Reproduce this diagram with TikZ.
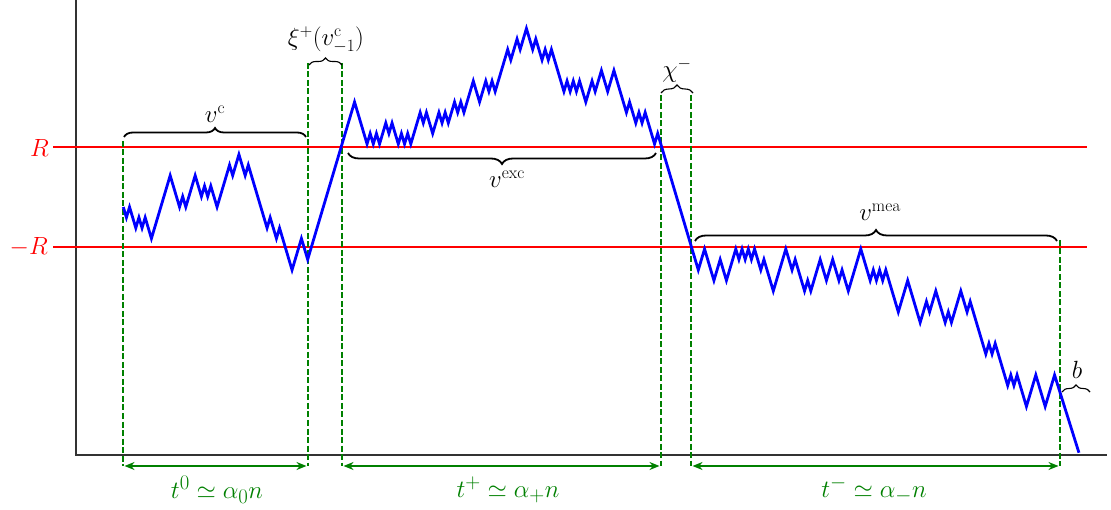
\documentclass[tikz,border=0pt]{standalone}
\usetikzlibrary{decorations.pathreplacing,arrows.meta}
\definecolor{dgreen}{RGB}{0,128,0}
\definecolor{axgray}{RGB}{51,51,51}
\begin{document}
\begin{tikzpicture}[x=1pt,y=-1pt,font=\fontsize{25}{30}\selectfont,
  walk/.style={blue,line width=2.8pt,line join=miter},
  rline/.style={red,line width=1.3pt},
  axisline/.style={axgray,line width=1.8pt},
  vdash/.style={dgreen,line width=1.8pt,dash pattern=on 6pt off 2.5pt},
  dimline/.style={dgreen,line width=1.8pt,{Stealth[length=10pt,width=8pt]}-{Stealth[length=10pt,width=8pt]},shorten <=1.5pt,shorten >=1.5pt},
  bracethick/.style={decorate,decoration={brace,amplitude=#1},line width=1.8pt},
  bracethin/.style={decorate,decoration={brace,amplitude=#1},line width=1.1pt},
  lbl/.style={inner sep=0pt,font=\fontsize{26.5}{31}\selectfont},
  glbl/.style={inner sep=0pt,text=dgreen,font=\fontsize{28}{33}\selectfont},
  rlbl/.style={inner sep=0pt,text=red}]
\useasboundingbox (0,0) rectangle (1111,510);

% axes
\coordinate (O) at (76,455);
\coordinate (ytop) at (76,0);
\coordinate (xend) at (1107,455);
\draw[axisline] (ytop) -- (O) -- (xend);

% levels R and -R
\coordinate (Rl) at (53,147);
\coordinate (Rr) at (1087,147);
\coordinate (mRl) at (53,247);
\coordinate (mRr) at (1087,247);
\draw[rline] (Rl) -- (Rr);
\draw[rline] (mRl) -- (mRr);
\node[rlbl,anchor=east] (Rlab) at (49,148) {$R$};
\node[rlbl,anchor=east] (mRlab) at (48,247) {$-R$};

% green dashed verticals
\coordinate (d1t) at (123,141);  \coordinate (d1b) at (123,466);
\coordinate (d2t) at (308,63);   \coordinate (d2b) at (308,466);
\coordinate (d3t) at (342,63);   \coordinate (d3b) at (342,466);
\coordinate (d4t) at (661,95);   \coordinate (d4b) at (661,466);
\coordinate (d5t) at (691,95);   \coordinate (d5b) at (691,466);
\coordinate (d6t) at (1060,240); \coordinate (d6b) at (1060,466);
\foreach \i in {1,...,6} \draw[vdash] (d\i t) -- (d\i b);

% dimension arrows
\draw[dimline] (d1b) -- (d2b);
\draw[dimline] (d3b) -- (d4b);
\draw[dimline] (d5b) -- (d6b);
\node[glbl] (t0) at (217,490) {$t^0 \simeq \alpha_0 n$};
\node[glbl] (tp) at (508,490) {$t^+ \simeq \alpha_+ n$};
\node[glbl] (tm) at (874,490) {$t^- \simeq \alpha_- n$};

% random walk
\begin{scope}[shift={(123.3pt,-144pt)},x=3.125pt,y=-10.5pt]
\draw[walk] (0,6) -- (1,7) -- (2,6) -- (4,8) -- (5,7) -- (6,8) -- (7,7) -- (9,9) -- (15,3) -- (18,6) -- (19,5) -- (20,6) -- (23,3) -- (25,5) -- (26,4) -- (27,5) -- (28,4) -- (30,6) -- (34,2) -- (35,3) -- (37,1) -- (39,3) -- (40,2) -- (46,8) -- (47,7) -- (49,9) -- (50,8) -- (54,12) -- (57,9) -- (59,11)
 -- (74,-4)
 -- (78,0) -- (79,-1) -- (80,0) -- (81,-1) -- (82,0) -- (84,-2) -- (85,-1) -- (86,-2) -- (88,0) -- (89,-1) -- (90,0) -- (91,-1) -- (92,0) -- (95,-3) -- (96,-2) -- (97,-3) -- (99,-1) -- (101,-3) -- (102,-2) -- (103,-3) -- (104,-2) -- (106,-4) -- (107,-3) -- (108,-4) -- (109,-3) -- (112,-6) -- (114,-4) -- (116,-6) -- (117,-5) -- (118,-6) -- (119,-5) -- (123,-9) -- (124,-8) -- (126,-10) -- (127,-9) -- (129,-11) -- (131,-9) -- (132,-10) -- (134,-8) -- (135,-9) -- (136,-8) -- (137,-9) -- (141,-5) -- (142,-6) -- (143,-5) -- (144,-6) -- (145,-5) -- (146,-6) -- (148,-4) -- (150,-6) -- (151,-5) -- (153,-7) -- (155,-5) -- (157,-7) -- (161,-3) -- (162,-4) -- (164,-2) -- (165,-3) -- (166,-2) -- (167,-3) -- (170,0) -- (171,-1)
 -- (184,12)
 -- (186,10) -- (189,13) -- (191,11) -- (193,13) -- (196,10) -- (197,11) -- (198,10) -- (199,11) -- (200,10) -- (201,11) -- (202,10) -- (204,12) -- (205,11) -- (208,14) -- (212,10) -- (214,12) -- (215,11) -- (218,14) -- (219,13) -- (220,14) -- (223,11) -- (225,13) -- (227,11) -- (229,13) -- (230,12) -- (232,14) -- (236,10) -- (239,13) -- (240,12) -- (241,13) -- (242,12) -- (243,13) -- (244,12) -- (248,16) -- (251,13) -- (255,17) -- (257,15) -- (258,16) -- (260,14) -- (263,17) -- (264,16) -- (265,17) -- (268,14) -- (270,16) -- (271,15) -- (276,20) -- (277,19) -- (278,20) -- (279,19) -- (283,23) -- (284,22) -- (285,23) -- (286,22) -- (289,25) -- (292,22) -- (295,25) -- (298,22) -- (305.8,29.4);
\end{scope}

% braces
\coordinate (bc1) at (124,137);  \coordinate (bc2) at (306,137);
\draw[bracethick=9pt] (bc1) -- (bc2);
\node[lbl] (vc) at (215,114) {$v^{\mathrm{c}}$};

\coordinate (bx1) at (309,65);   \coordinate (bx2) at (342,65);
\draw[bracethin=7pt] (bx1) -- (bx2);
\node[lbl] (xi) at (326,40) {$\xi^+(v^{\mathrm{c}}_{-1})$};

\coordinate (be1) at (656,153);  \coordinate (be2) at (348,153);
\draw[bracethick=11pt] (be1) -- (be2);
\node[lbl] (vexc) at (507,179) {$v^{\mathrm{exc}}$};

\coordinate (bh1) at (661,93);   \coordinate (bh2) at (693,93);
\draw[bracethin=8pt] (bh1) -- (bh2);
\node[lbl] (chi) at (677,70) {$\chi^-$};

\coordinate (bm1) at (695,241);  \coordinate (bm2) at (1057,241);
\draw[bracethick=11pt] (bm1) -- (bm2);
\node[lbl] (vmea) at (880,212) {$v^{\mathrm{mea}}$};

\coordinate (bb1) at (1062,392); \coordinate (bb2) at (1090,392);
\draw[bracethin=7pt] (bb1) -- (bb2);
\node[lbl] (blab) at (1077,370) {$b$};
\end{tikzpicture}
\end{document}
